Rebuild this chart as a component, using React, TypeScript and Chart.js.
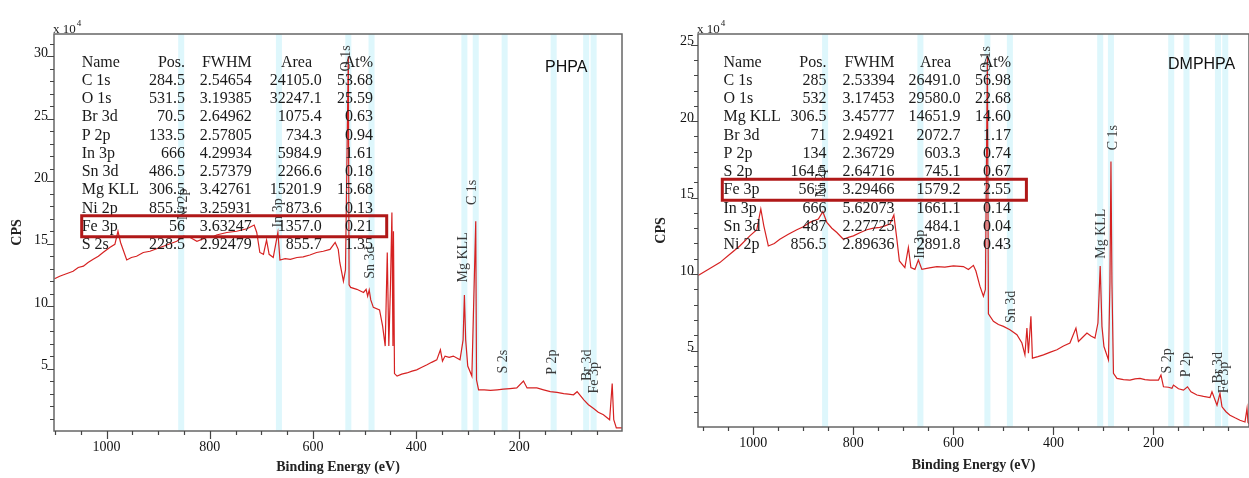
import React, { useEffect, useRef } from 'react';
import { Chart, registerables } from 'chart.js';

Chart.register(...registerables);

const SERIF = '"Liberation Serif", "Times New Roman", serif';
const SANS = '"Liberation Sans", Arial, sans-serif';

// ---------------- PHPA (left panel) ----------------
const phpaEnergy = [
  1101, 1091, 1078, 1065, 1055, 1045, 1036, 1026, 1016, 1007,
  994, 984, 978, 973, 961, 952, 942, 929, 916, 903,
  890, 877, 864, 851, 838, 825, 806, 796, 787, 767,
  748, 728, 714, 709, 703, 696, 690, 685, 677, 668,
  664, 654, 644, 631, 619, 606, 593, 580, 567, 557,
  551, 548, 541, 537, 531.5, 530, 527, 515, 502, 497,
  494, 491, 488, 483, 471, 465, 460, 456, 453, 450,
  447, 445, 444, 442, 437, 428, 418, 408, 399, 389,
  379, 370, 360, 353, 349, 344, 336, 328, 315, 309,
  306.5, 304, 300, 292, 284.5, 283, 279, 268, 256, 243,
  231, 218, 205, 192, 185, 166, 153, 140, 127, 114,
  105, 95, 88, 75, 66, 56, 47, 37, 25, 20,
  17, 12, 1,
];
const phpaCps = [
  12.2, 12.4, 12.6, 12.8, 13.1, 13.2, 13.5, 13.75, 14.0, 14.3,
  14.7, 14.95, 16.0, 15.1, 13.7, 13.9, 14.0, 14.3, 14.4, 14.6,
  14.8, 15.0, 15.2, 15.6, 15.5, 15.2, 15.5, 15.5, 15.7, 15.9,
  16.0, 16.2, 16.5, 15.9, 14.3, 14.15, 15.3, 14.15, 13.9, 15.9,
  13.7, 13.8, 13.75, 13.9, 13.95, 14.1, 14.3, 14.4, 14.55, 15.1,
  14.55, 13.5, 12.0, 12.9, 30.0, 11.7, 11.5, 11.35, 11.1, 11.35,
  10.8, 11.3, 10.5, 9.9, 9.7, 8.4, 6.8, 14.3, 6.8, 11.3,
  17.5, 6.8, 16.0, 4.6, 4.4, 4.55, 4.65, 4.8, 4.9, 5.1,
  5.3, 5.5, 5.7, 6.5, 5.6, 6.0, 5.9, 6.0, 5.7, 7.3,
  10.9, 7.3, 5.2, 4.4, 16.8, 4.1, 3.3, 3.3, 3.25, 3.3,
  3.35, 3.4, 3.45, 4.0, 3.45, 3.45, 3.3, 3.15, 3.1, 3.0,
  2.95, 2.9, 3.15, 2.5, 2.1, 1.8, 1.5, 1.3, 0.9, 3.8,
  0.9, 0.25, 0.25,
];
const phpaNames = ['C 1s', 'O 1s', 'Br 3d', 'P 2p', 'In 3p', 'Sn 3d', 'Mg KLL', 'Ni 2p', 'Fe 3p', 'S 2s'];
const phpaPos = [284.5, 531.5, 70.5, 133.5, 666, 486.5, 306.5, 855.5, 56, 228.5];
const phpaFwhm = [2.54654, 3.19385, 2.64962, 2.57805, 4.29934, 2.57379, 3.42761, 3.25931, 3.63247, 2.92479];
const phpaArea = [24105.0, 32247.1, 1075.4, 734.3, 5984.9, 2266.6, 15201.9, 873.6, 1357.0, 855.7];
const phpaAt = [53.68, 25.59, 0.63, 0.94, 1.61, 0.18, 15.68, 0.13, 0.21, 1.35];
const phpaPeakNames = ['O 1s', 'Ni 2p', 'In 3p', 'Sn 3d', 'Mg KLL', 'C 1s', 'S 2s', 'P 2p', 'Br 3d', 'Fe 3p'];
const phpaPeakE = [535, 852, 667, 489, 309, 291, 231, 136, 68, 54];
const phpaPeakY = [28.8, 16.9, 16.3, 12.2, 11.9, 18.1, 4.6, 4.5, 4.0, 3.0];

// ---------------- DMPHPA (right panel) ----------------
const dmEnergy = [
  1110, 1107, 1087, 1067, 1047, 1027, 1007, 993, 985, 979,
  970, 958, 947, 930, 913, 900, 887, 870, 861, 853,
  843, 833, 820, 810, 800, 787, 773, 760, 747, 737,
  727, 719, 713, 708, 697, 690, 685, 677, 670, 663,
  648, 633, 617, 600, 580, 570, 560, 555, 547, 540,
  536, 532, 530, 520, 510, 500, 487, 473, 463, 457,
  453, 450, 445, 442, 431, 420, 406, 393, 380, 367,
  355, 350, 342, 333, 325, 317, 311, 306.5, 303, 299,
  290, 287, 285, 283, 280, 273, 260, 247, 237, 227,
  217, 207, 190, 185, 180, 170, 163, 160, 150, 140,
  132, 125, 113, 100, 87, 83, 73, 67, 63, 55,
  47, 37, 27, 17, 13, 11, 9,
];
const dmCps = [
  9.9, 9.98, 10.36, 10.75, 11.3, 11.84, 12.5, 12.9, 14.26, 13.16,
  11.84, 12.0, 12.28, 12.6, 12.9, 13.1, 13.38, 13.6, 14.08, 13.38,
  13.0, 12.72, 12.28, 12.4, 12.5, 12.7, 12.9, 13.0, 13.05, 13.15,
  13.27, 13.86, 12.28, 10.86, 10.42, 11.74, 10.42, 10.31, 10.92, 10.31,
  10.4, 10.49, 10.45, 10.53, 10.49, 10.3, 10.57, 10.2, 9.21, 8.55,
  9.0, 24.3, 7.4, 6.91, 6.7, 6.58, 6.36, 6.03, 5.49, 4.72,
  6.47, 4.83, 7.24, 4.5, 4.6, 4.72, 4.9, 5.05, 5.3, 5.49,
  6.47, 5.59, 5.85, 6.14, 5.95, 5.82, 6.8, 10.53, 6.58, 5.26,
  4.39, 9.43, 17.37, 9.4, 3.51, 3.18, 3.1, 3.07, 3.15, 3.18,
  3.1, 3.07, 3.07, 3.4, 2.63, 2.6, 2.53, 2.74, 2.5, 2.41,
  2.63, 2.3, 2.09, 2.0, 1.93, 2.3, 1.43, 2.2, 1.32, 1.0,
  0.77, 0.6, 0.44, 0.33, 1.21, 0.3, 0.22,
];
const dmNames = ['C 1s', 'O 1s', 'Mg KLL', 'Br 3d', 'P 2p', 'S 2p', 'Fe 3p', 'In 3p', 'Sn 3d', 'Ni 2p'];
const dmPos = [285, 532, 306.5, 71, 134, 164.5, 56.5, 666, 487, 856.5];
const dmFwhm = [2.53394, 3.17453, 3.45777, 2.94921, 2.36729, 2.64716, 3.29466, 5.62073, 2.27725, 2.89636];
const dmArea = [26491.0, 29580.0, 14651.9, 2072.7, 603.3, 745.1, 1579.2, 1661.1, 484.1, 2891.8];
const dmAt = [56.98, 22.68, 14.60, 1.17, 0.74, 0.67, 2.55, 0.14, 0.04, 0.43];
const dmPeakNames = ['O 1s', 'Ni 2p', 'In 3p', 'Sn 3d', 'Mg KLL', 'C 1s', 'S 2p', 'P 2p', 'Br 3d', 'Fe 3p'];
const dmPeakE = [535, 864, 667, 485, 305, 280, 172, 135, 71, 59];
const dmPeakY = [23.2, 15.0, 11.0, 6.8, 11.0, 18.1, 3.5, 3.25, 2.85, 2.2];

type Panel = {
  energy: number[]; cps: number[];
  names: string[]; pos: number[]; fwhm: number[]; area: number[]; at: number[];
  peakNames: string[]; peakE: number[]; peakY: number[];
  xMin: number; xMax: number; yMin: number; yMax: number;
  padRight: number; yAxisW: number; xAxisH: number;
  yTitlePad: number; xTitlePad: number; yTickPad: number;
  colX: number[]; areaHeadX: number; highlight: number; rectX: number[];
  sample: string; sampleX: number; sampleY: number;
};

function makeChart(canvas: HTMLCanvasElement, p: Panel) {
  const spectrum = {
    data: p.energy.map((e, i) => ({ x: e, y: p.cps[i] })),
    borderColor: '#d62222',
    borderWidth: 1.2,
    pointRadius: 0,
    tension: 0,
    fill: false,
  };
  const bands = p.pos.map((b) => ({
    data: [{ x: b, y: p.yMin }, { x: b, y: p.yMax }],
    borderColor: 'rgba(190,240,250,0.5)',
    borderWidth: 6,
    pointRadius: 0,
    fill: false,
  }));

  const overlay = {
    id: 'xpsOverlay',
    afterDraw(chart: any) {
      const { ctx, chartArea: a, scales } = chart;
      const xs = scales.x;
      const ys = scales.y;
      ctx.save();
      // frame
      ctx.strokeStyle = '#666';
      ctx.lineWidth = 1.5;
      ctx.strokeRect(a.left, a.top, a.right - a.left, a.bottom - a.top);
      // tick marks
      ctx.strokeStyle = '#444';
      ctx.lineWidth = 1.2;
      ctx.beginPath();
      for (let e = Math.ceil(p.xMin / 50) * 50; e <= p.xMax; e += 50) {
        const px = Math.round(xs.getPixelForValue(e)) + 0.5;
        const len = e % 200 === 0 ? 8 : 4;
        ctx.moveTo(px, a.bottom);
        ctx.lineTo(px, a.bottom + len);
      }
      for (let v = 1; v <= p.yMax; v += 1) {
        const py = Math.round(ys.getPixelForValue(v)) + 0.5;
        const len = v % 5 === 0 ? 7 : 4;
        ctx.moveTo(a.left, py);
        ctx.lineTo(a.left - len, py);
      }
      ctx.stroke();

      // x 10^4
      ctx.fillStyle = '#222';
      ctx.textAlign = 'left';
      ctx.textBaseline = 'alphabetic';
      ctx.font = `13px ${SERIF}`;
      ctx.fillText('x 10', a.left - 1, a.top - 1);
      const w = ctx.measureText('x 10').width;
      ctx.font = `9px ${SERIF}`;
      ctx.fillText('4', a.left + w, a.top - 8);

      // peak labels
      ctx.fillStyle = '#3a3a3a';
      ctx.font = `14px ${SERIF}`;
      p.peakNames.forEach((n, i) => {
        const px = xs.getPixelForValue(p.peakE[i]);
        const py = ys.getPixelForValue(p.peakY[i]);
        ctx.save();
        ctx.translate(px, py);
        ctx.rotate(-Math.PI / 2);
        ctx.textAlign = 'left';
        ctx.textBaseline = 'middle';
        ctx.fillText(n, 0, 0);
        ctx.restore();
      });

      // table
      const L = a.left;
      const y0 = 62.5;
      const step = 18.25;
      ctx.fillStyle = '#1a1a1a';
      ctx.font = `16px ${SERIF}`;
      ctx.textBaseline = 'middle';
      ctx.textAlign = 'left';
      ctx.fillText('Name', L + p.colX[0], y0);
      ctx.textAlign = 'right';
      ctx.fillText('Pos.', L + p.colX[1], y0);
      ctx.fillText('FWHM', L + p.colX[2], y0);
      ctx.fillText('Area', L + p.areaHeadX, y0);
      ctx.fillText('At%', L + p.colX[4], y0);
      p.names.forEach((n, i) => {
        const y = y0 + (i + 1) * step;
        ctx.textAlign = 'left';
        ctx.fillText(n, L + p.colX[0], y);
        ctx.textAlign = 'right';
        ctx.fillText(String(p.pos[i]), L + p.colX[1], y);
        ctx.fillText(p.fwhm[i].toFixed(5), L + p.colX[2], y);
        ctx.fillText(p.area[i].toFixed(1), L + p.colX[3], y);
        ctx.fillText(p.at[i].toFixed(2), L + p.colX[4], y);
      });
      // highlight rectangle
      const ry = y0 + (p.highlight + 1) * step;
      ctx.strokeStyle = '#b01818';
      ctx.lineWidth = 3;
      ctx.strokeRect(L + p.rectX[0], ry - 11, p.rectX[1] - p.rectX[0], 21);

      // sample name
      ctx.fillStyle = '#111';
      ctx.font = `16px ${SANS}`;
      ctx.textAlign = 'left';
      ctx.textBaseline = 'middle';
      ctx.fillText(p.sample, p.sampleX, p.sampleY);
      ctx.restore();
    },
  };

  const tickFont = { family: SERIF, size: 14 };
  return new Chart(canvas, {
    type: 'line',
    data: { datasets: [spectrum, ...bands] as any },
    options: {
      responsive: false,
      animation: false,
      layout: { padding: { top: 34, right: p.padRight, left: 0, bottom: 0 } },
      plugins: { legend: { display: false }, tooltip: { enabled: false } },
      scales: {
        x: {
          type: 'linear',
          reverse: true,
          min: p.xMin,
          max: p.xMax,
          grid: { display: false, drawTicks: false },
          border: { display: false },
          ticks: {
            stepSize: 200,
            includeBounds: false,
            autoSkip: false,
            maxRotation: 0,
            padding: 8,
            color: '#111',
            font: tickFont,
            callback: (v: any) => (Number(v) > 0 && Number(v) % 200 === 0 ? String(v) : ''),
          },
          title: {
            display: true,
            text: 'Binding Energy (eV)',
            color: '#222',
            font: { family: SERIF, size: 14, weight: 'bold' },
            padding: { top: 0, bottom: p.xTitlePad },
          },
          afterFit: (s: any) => { s.height = p.xAxisH; },
        },
        y: {
          type: 'linear',
          min: p.yMin,
          max: p.yMax,
          grid: { display: false, drawTicks: false },
          border: { display: false },
          ticks: {
            stepSize: 5,
            includeBounds: false,
            padding: p.yTickPad,
            labelOffset: -3,
            color: '#111',
            font: tickFont,
            callback: (v: any) => (Number(v) > 0 && Number(v) % 5 === 0 ? String(v) : ''),
          },
          title: {
            display: true,
            text: 'CPS',
            color: '#222',
            font: { family: SERIF, size: 14, weight: 'bold' },
            padding: { top: p.yTitlePad, bottom: 0 },
          },
          afterFit: (s: any) => { s.width = p.yAxisW; },
        },
      },
    } as any,
    plugins: [overlay],
  });
}

const leftPanel: Panel = {
  energy: phpaEnergy, cps: phpaCps,
  names: phpaNames, pos: phpaPos, fwhm: phpaFwhm, area: phpaArea, at: phpaAt,
  peakNames: phpaPeakNames, peakE: phpaPeakE, peakY: phpaPeakY,
  xMin: 1, xMax: 1102, yMin: 0, yMax: 31.8,
  padRight: 18, yAxisW: 54, xAxisH: 47,
  yTitlePad: 8.6, xTitlePad: 2.6, yTickPad: 6,
  colX: [27.7, 131, 197.7, 267.7, 319], areaHeadX: 258, highlight: 8, rectX: [27.7, 332.7],
  sample: 'PHPA', sampleX: 545, sampleY: 68,
};

const rightPanel: Panel = {
  energy: dmEnergy, cps: dmCps,
  names: dmNames, pos: dmPos, fwhm: dmFwhm, area: dmArea, at: dmAt,
  peakNames: dmPeakNames, peakE: dmPeakE, peakY: dmPeakY,
  xMin: 9, xMax: 1110.6, yMin: 0, yMax: 25.7,
  padRight: 0, yAxisW: 58, xAxisH: 51,
  yTitlePad: 12.6, xTitlePad: 4.6, yTickPad: 4,
  colX: [25.5, 128.4, 196.4, 262.4, 313], areaHeadX: 253, highlight: 6, rectX: [24.3, 328.4],
  sample: 'DMPHPA', sampleX: 528, sampleY: 65,
};

export default function App() {
  const leftRef = useRef<HTMLCanvasElement>(null);
  const rightRef = useRef<HTMLCanvasElement>(null);

  useEffect(() => {
    document.body.style.margin = '0';
    const c1 = makeChart(leftRef.current as HTMLCanvasElement, leftPanel);
    const c2 = makeChart(rightRef.current as HTMLCanvasElement, rightPanel);
    return () => {
      c1.destroy();
      c2.destroy();
    };
  }, []);

  return (
    <div style={{ position: 'relative', width: 1249, height: 478, background: '#fff', overflow: 'hidden' }}>
      <canvas ref={leftRef} width={640} height={478} style={{ position: 'absolute', left: 0, top: 0 }} />
      <canvas ref={rightRef} width={609} height={478} style={{ position: 'absolute', left: 640, top: 0 }} />
    </div>
  );
}
